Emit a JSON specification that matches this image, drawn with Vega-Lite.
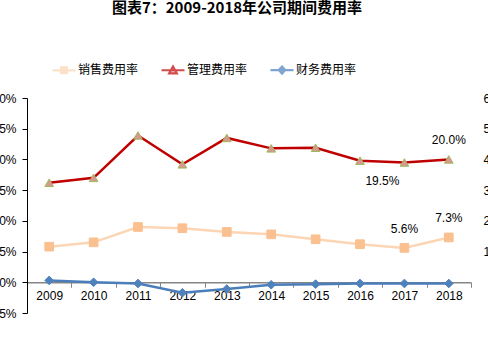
{
  "$schema": "https://vega.github.io/schema/vega-lite/v6.json",
  "width": 444,
  "height": 215,
  "autosize": {"type": "none"},
  "padding": {"left": 27, "top": 98, "right": 17, "bottom": 25},
  "background": "white",
  "title": {
    "text": "图表7：2009-2018年公司期间费用率",
    "font": "Noto Sans CJK SC",
    "fontSize": 15,
    "fontWeight": "bold",
    "color": "#000000",
    "anchor": "middle",
    "frame": "group",
    "dx": -12,
    "offset": 45
  },
  "config": {
    "view": {"stroke": null},
    "axis": {"labelFont": "Liberation Sans", "labelFontSize": 12, "labelColor": "#000000", "grid": false, "title": null}
  },
  "data": {
    "values": [
      {"year": "2009", "series": "销售费用率", "v": 0.058},
      {"year": "2010", "series": "销售费用率", "v": 0.065},
      {"year": "2011", "series": "销售费用率", "v": 0.090},
      {"year": "2012", "series": "销售费用率", "v": 0.088},
      {"year": "2013", "series": "销售费用率", "v": 0.082},
      {"year": "2014", "series": "销售费用率", "v": 0.078},
      {"year": "2015", "series": "销售费用率", "v": 0.070},
      {"year": "2016", "series": "销售费用率", "v": 0.062},
      {"year": "2017", "series": "销售费用率", "v": 0.056},
      {"year": "2018", "series": "销售费用率", "v": 0.073},
      {"year": "2009", "series": "管理费用率", "v": 0.162},
      {"year": "2010", "series": "管理费用率", "v": 0.170},
      {"year": "2011", "series": "管理费用率", "v": 0.239},
      {"year": "2012", "series": "管理费用率", "v": 0.192},
      {"year": "2013", "series": "管理费用率", "v": 0.235},
      {"year": "2014", "series": "管理费用率", "v": 0.218},
      {"year": "2015", "series": "管理费用率", "v": 0.219},
      {"year": "2016", "series": "管理费用率", "v": 0.198},
      {"year": "2017", "series": "管理费用率", "v": 0.195},
      {"year": "2018", "series": "管理费用率", "v": 0.200},
      {"year": "2009", "series": "财务费用率", "v": 0.003},
      {"year": "2010", "series": "财务费用率", "v": 0.000},
      {"year": "2011", "series": "财务费用率", "v": -0.002},
      {"year": "2012", "series": "财务费用率", "v": -0.017},
      {"year": "2013", "series": "财务费用率", "v": -0.011},
      {"year": "2014", "series": "财务费用率", "v": -0.004},
      {"year": "2015", "series": "财务费用率", "v": -0.003},
      {"year": "2016", "series": "财务费用率", "v": -0.002},
      {"year": "2017", "series": "财务费用率", "v": -0.002},
      {"year": "2018", "series": "财务费用率", "v": -0.002}
    ]
  },
  "encoding": {
    "x": {
      "field": "year",
      "type": "ordinal",
      "scale": {"type": "band", "paddingInner": 0, "paddingOuter": 0},
      "axis": {
        "orient": "bottom",
        "offset": -30.714,
        "labelAngle": 0,
        "domainColor": "#868686",
        "domainWidth": 1.5,
        "tickColor": "#868686",
        "tickWidth": 1,
        "tickSize": 5,
        "tickBand": "extent",
        "labelPadding": 3
      }
    }
  },
  "layer": [
    {
      "mark": {"type": "line", "strokeWidth": 2.5},
      "encoding": {
        "y": {
          "field": "v", "type": "quantitative",
          "scale": {"domain": [-0.05, 0.30], "nice": false, "zero": false},
          "axis": {
            "orient": "left",
            "values": [-0.05, 0, 0.05, 0.10, 0.15, 0.20, 0.25, 0.30],
            "format": ".0%",
            "domainColor": "#000000",
            "domainWidth": 1,
            "tickColor": "#000000",
            "tickSize": 5,
            "labelPadding": 6
          }
        },
        "strokeWidth": {
          "field": "series", "type": "nominal",
          "scale": {"domain": ["销售费用率", "管理费用率", "财务费用率"], "range": [2.5, 2.5, 3]},
          "legend": null
        },
        "stroke": {
          "field": "series", "type": "nominal",
          "scale": {"domain": ["销售费用率", "管理费用率", "财务费用率"], "range": ["#FCD5B5", "#C00000", "#4A7EBB"]},
          "legend": null
        }
      }
    },
    {
      "mark": {"type": "point", "filled": true, "size": 75, "strokeWidth": 1, "opacity": 1},
      "encoding": {
        "y": {"field": "v", "type": "quantitative", "scale": {"domain": [-0.05, 0.30], "nice": false, "zero": false}, "axis": null},
        "shape": {
          "field": "series", "type": "nominal",
          "scale": {"domain": ["销售费用率", "管理费用率", "财务费用率"], "range": ["square", "triangle-up", "diamond"]},
          "legend": null
        },
        "fill": {
          "field": "series", "type": "nominal",
          "scale": {"domain": ["销售费用率", "管理费用率", "财务费用率"], "range": ["#FAC090", "#D99694", "#4F81BD"]},
          "legend": null
        },
        "stroke": {
          "field": "series", "type": "nominal",
          "scale": {"domain": ["销售费用率", "管理费用率", "财务费用率"], "range": ["#FAC090", "#9BBB59", "#4F81BD"]},
          "legend": null
        }
      }
    },
    {
      "mark": {"type": "point", "filled": true, "size": 0, "strokeWidth": 2.5},
      "encoding": {
        "y": {
          "field": "v", "type": "quantitative",
          "scale": {"domain": [-0.05, 0.30], "nice": false, "zero": false},
          "axis": {
            "orient": "right",
            "values": [0.05, 0.10, 0.15, 0.20, 0.25, 0.30],
            "labelExpr": "format(datum.value * 200, 'd') + '%'",
            "domain": false,
            "ticks": false,
            "labelPadding": 12
          }
        },
        "shape": {
          "field": "series", "type": "nominal",
          "scale": {"domain": ["销售费用率", "管理费用率", "财务费用率"], "range": [
            "M-1.5,0H1.5M-0.38,-0.38H0.38V0.38H-0.38Z",
            "M-1.5,0H1.5M0,-0.5L0.5,0.4H-0.5Z",
            "M-1.5,0H1.5M0,-0.45L0.42,0L0,0.45L-0.42,0Z"
          ]},
          "legend": {"orient": "none", "legendX": 28, "legendY": -37, "direction": "horizontal", "title": null, "symbolSize": 236, "symbolStrokeWidth": 2.2, "labelFont": "Noto Sans CJK SC", "labelFontSize": 12, "labelColor": "#000000", "labelOffset": 5, "columnPadding": 18, "padding": 0}
        },
        "fill": {
          "field": "series", "type": "nominal",
          "scale": {"domain": ["销售费用率", "管理费用率", "财务费用率"], "range": ["#FAC090", "#D99694", "#4F81BD"]},
          "legend": {"orient": "none", "legendX": 28, "legendY": -37, "direction": "horizontal", "title": null, "symbolSize": 236, "symbolStrokeWidth": 2.2, "labelFont": "Noto Sans CJK SC", "labelFontSize": 12, "labelColor": "#000000", "labelOffset": 5, "columnPadding": 18, "padding": 0}
        },
        "stroke": {
          "field": "series", "type": "nominal",
          "scale": {"domain": ["销售费用率", "管理费用率", "财务费用率"], "range": ["#FCD5B5", "#C00000", "#4A7EBB"]},
          "legend": {"orient": "none", "legendX": 28, "legendY": -37, "direction": "horizontal", "title": null, "symbolSize": 236, "symbolStrokeWidth": 2.2, "labelFont": "Noto Sans CJK SC", "labelFontSize": 12, "labelColor": "#000000", "labelOffset": 5, "columnPadding": 18, "padding": 0}
        }
      }
    },
    {
      "transform": [{"filter": "datum.year == '2018' && datum.series != '财务费用率' || datum.year == '2017' && datum.series == '销售费用率'"}],
      "mark": {"type": "text", "dy": -19, "font": "Liberation Sans", "fontSize": 12, "color": "#000000"},
      "encoding": {
        "y": {"field": "v", "type": "quantitative", "scale": {"domain": [-0.05, 0.30], "nice": false, "zero": false}, "axis": null},
        "text": {"field": "v", "type": "quantitative", "format": ".1%"}
      }
    },
    {
      "transform": [{"filter": "datum.year == '2017' && datum.series == '管理费用率'"}],
      "mark": {"type": "text", "dx": -22, "dy": 18, "font": "Liberation Sans", "fontSize": 12, "color": "#000000"},
      "encoding": {
        "y": {"field": "v", "type": "quantitative", "scale": {"domain": [-0.05, 0.30], "nice": false, "zero": false}, "axis": null},
        "text": {"field": "v", "type": "quantitative", "format": ".1%"}
      }
    }
  ],
  "resolve": {"scale": {"y": "independent", "shape": "independent", "fill": "independent", "stroke": "independent"}}
}
